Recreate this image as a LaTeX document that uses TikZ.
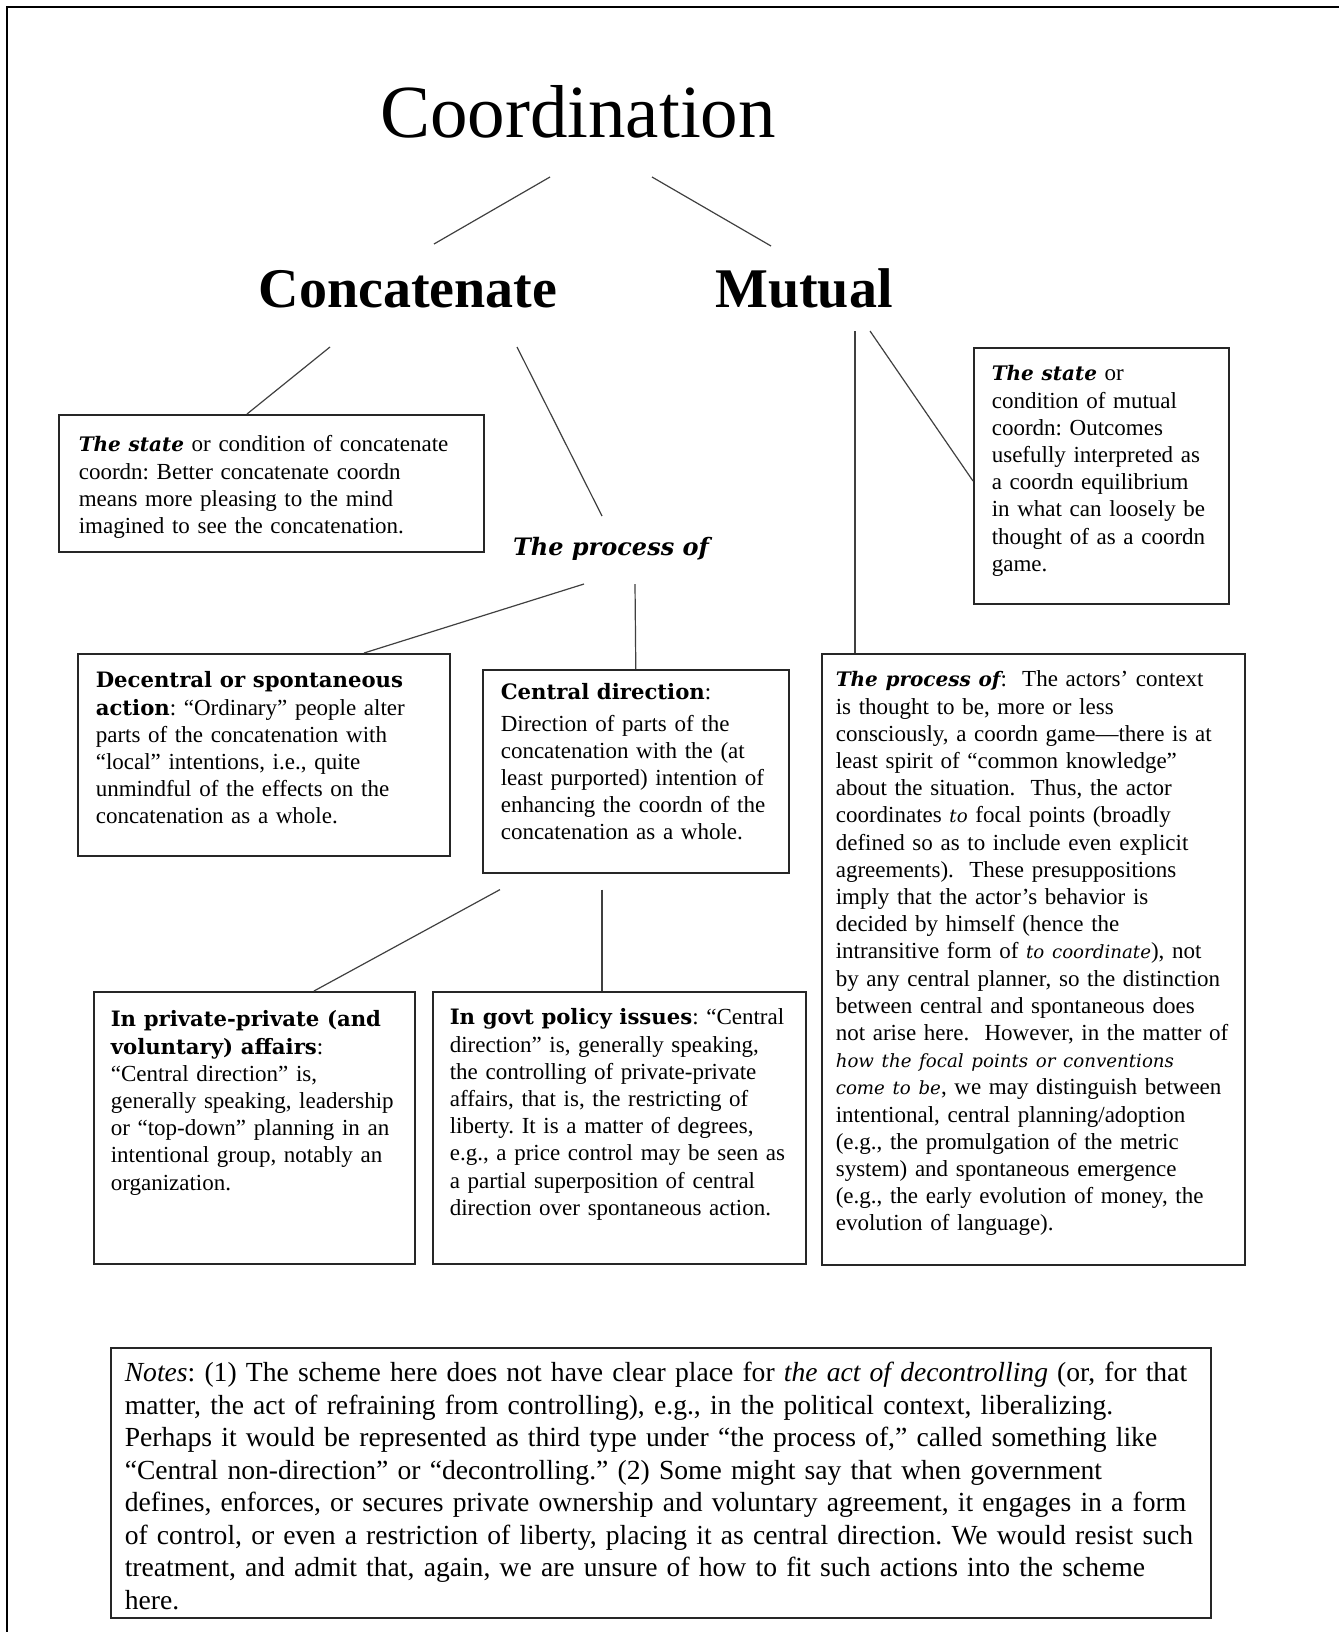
\documentclass[tikz,border=0pt]{standalone}
\usepackage{fontspec}
\setmainfont{Liberation Serif}
\newfontfamily\headfont{DejaVu Serif}
\frenchspacing

\newcommand{\hd}[1]{{\headfont\bfseries\fontsize{10.6}{13.6}\selectfont #1}}
\newcommand{\hdi}[1]{{\headfont\bfseries\itshape\fontsize{10}{13.6}\selectfont #1}}
\newcommand{\emi}[1]{{\headfont\itshape\fontsize{9.1}{13.6}\selectfont #1}}

\begin{document}
\begin{tikzpicture}[x=0.5pt, y=-0.5pt,
    box/.style={draw=black!85, line width=0.8pt, anchor=north west, align=left,
                inner xsep=9pt, inner ysep=0pt, font=\fontsize{11.5}{13.6}\selectfont},
    title/.style={anchor=base, inner sep=0pt},
    link/.style={line width=0.6pt, black!75}]
          \useasboundingbox (0,0) rectangle (1339,1632);
          \draw[line width=1.4pt] (7,1632) -- (7,7) -- (1339,7);

          % headings
          \node[title, font=\fontsize{37.5}{40}\selectfont] (coord) at (578,138) {Coordination};
          \node[title, font=\bfseries\fontsize{28}{32}\selectfont] (conc) at (408,307) {Concatenate};
          \node[title, font=\bfseries\fontsize{28}{32}\selectfont] (mutual) at (804,307) {Mutual};
          \node[title, font=\headfont\bfseries\itshape\fontsize{12}{14}\selectfont] (proc) at (611,555) {The process of};

          % boxes
          \node[box, inner xsep=10pt, text width=192.5pt, text height=18.5pt, text depth=50pt] (cs) at (58,414)
              {\hdi{The state} or condition of concatenate\\coordn: Better concatenate coordn\\means more pleasing to the mind\\imagined to see the concatenation.};
          \node[box, text width=109.5pt, text height=16.5pt, text depth=111.5pt] (ms) at (973,347)
              {\hdi{The state} or\\condition of mutual\\coordn: Outcomes\\usefully interpreted as\\a coordn equilibrium\\in what can loosely be\\thought of as a coordn\\game.};
          \node[box, text width=168pt, text height=17pt, text depth=84pt] (dec) at (77,653)
              {\hd{Decentral or spontaneous}\\\hd{action}: “Ordinary” people alter\\parts of the concatenation with\\“local” intentions, i.e., quite\\unmindful of the effects on the\\concatenation as a whole.};
          \node[box, text width=135pt, text height=15pt, text depth=86.5pt] (cd) at (482,669)
              {\hd{Central direction}:\\[2pt]Direction of parts of the\\concatenation with the (at\\least purported) intention of\\enhancing the coordn of the\\concatenation as a whole.};
          \node[box, inner xsep=8.5pt, text width=143.5pt, text height=17.5pt, text depth=118.5pt] (pp) at (93,991)
              {\hd{In private-private (and}\\\hd{voluntary) affairs}:\\“Central direction” is,\\generally speaking, leadership\\or “top-down” planning in an\\intentional group, notably an\\organization.};
          \node[box, inner xsep=8.5pt, text width=169.5pt, text height=16.5pt, text depth=119.5pt] (gp) at (432,991)
              {\hd{In govt policy issues}: “Central\\direction” is, generally speaking,\\the controlling of private-private\\affairs, that is, the restricting of\\liberty. It is a matter of degrees,\\e.g., a price control may be seen as\\a partial superposition of central\\direction over spontaneous action.};
          \node[box, inner xsep=7pt, text width=197.5pt, text height=16.5pt, text depth=289pt] (mp) at (821,653)
              {\hdi{The process of}:\ \ The actors’ context\\is thought to be, more or less\\consciously, a coordn game—there is at\\least spirit of “common knowledge”\\about the situation.\ \ Thus, the actor\\coordinates \emi{to} focal points (broadly\\defined so as to include even explicit\\agreements).\ \ These presuppositions\\imply that the actor’s behavior is\\decided by himself (hence the\\intransitive form of \emi{to coordinate}), not\\by any central planner, so the distinction\\between central and spontaneous does\\not arise here.\ \ However, in the matter of\\\emi{how the focal points or conventions}\\\emi{come to be}, we may distinguish between\\intentional, central planning/adoption\\(e.g., the promulgation of the metric\\system) and spontaneous emergence\\(e.g., the early evolution of money, the\\evolution of language).};
          \node[box, inner xsep=7pt, text width=536pt, text height=17pt, text depth=118pt, font=\fontsize{13.8}{16.25}\selectfont] (notes) at (110,1347)
              {\emph{Notes}: (1) The scheme here does not have clear place for \emph{the act of decontrolling} (or, for that\\matter, the act of refraining from controlling), e.g., in the political context, liberalizing.\\Perhaps it would be represented as third type under “the process of,” called something like\\“Central non-direction” or “decontrolling.” (2) Some might say that when government\\defines, enforces, or secures private ownership and voluntary agreement, it engages in a form\\of control, or even a restriction of liberty, placing it as central direction. We would resist such\\treatment, and admit that, again, we are unsure of how to fit such actions into the scheme\\here.};

          % connectors
          \draw[link] ([shift={(-28,39)}]coord.base) -- ([shift={(26,-63)}]conc.base);
          \draw[link] ([shift={(74,39)}]coord.base) -- ([shift={(-33,-61)}]mutual.base);
          \draw[link] ([shift={(-78,40)}]conc.base) -- ([shift={(189,0)}]cs.north west);
          \draw[link] ([shift={(109,40)}]conc.base) -- ([shift={(-9,-39)}]proc.base);
          \draw[link] ([shift={(51,24)}]mutual.base) -- ([shift={(34,0)}]mp.north west);
          \draw[link] ([shift={(66,24)}]mutual.base) -- ([shift={(0,134)}]ms.north west);
          \draw[link] ([shift={(-27,29)}]proc.base) -- ([shift={(287,0)}]dec.north west);
          \draw[link] ([shift={(24,29)}]proc.base) -- (cd.north);
          \draw[link] ([shift={(18,16)}]cd.south west) -- ([shift={(221,0)}]pp.north west);
          \draw[link] ([shift={(120,16)}]cd.south west) -- ([shift={(170,0)}]gp.north west);

      \end{tikzpicture}
\end{document}
